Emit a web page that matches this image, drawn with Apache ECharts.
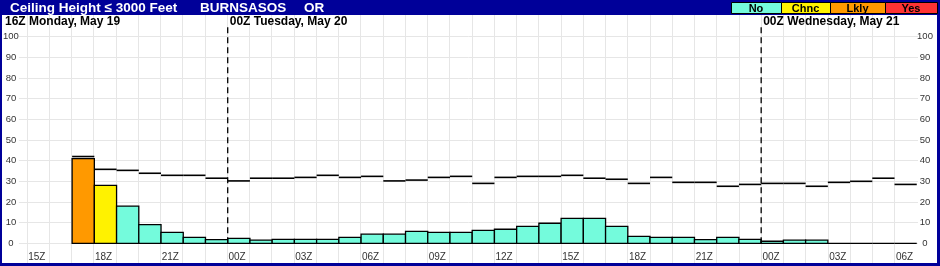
<!DOCTYPE html>
<html><head><meta charset="utf-8">
<script src="https://cdn.jsdelivr.net/npm/echarts@6/dist/echarts.min.js"></script>
<style>html,body{margin:0;padding:0;background:#fff}#c{width:940px;height:266px}</style>
</head><body><div id="c"></div>
<script>
// ---- data ----
const titleParts = ['Ceiling Height \u2264 3000 Feet', 'BURNSASOS', 'OR'];
const hourLabels = ['17Z','18Z','19Z','20Z','21Z','22Z','23Z',
  '00Z','01Z','02Z','03Z','04Z','05Z','06Z','07Z','08Z','09Z','10Z','11Z','12Z',
  '13Z','14Z','15Z','16Z','17Z','18Z','19Z','20Z','21Z','22Z','23Z',
  '00Z','01Z','02Z','03Z','04Z','05Z','06Z'];
const firstHourOffset = -7; // 17Z Mon relative to 00Z Tue May 20
const probValues = [41, 28, 18, 9, 5.3, 2.9, 1.8,
  2.4, 1.5, 1.9, 1.9, 1.9, 2.9, 4.4, 4.4, 5.8, 5.3, 5.3, 6.3, 6.8,
  8.2, 9.7, 12.1, 12.1, 8.2, 3.4, 2.9, 2.9, 1.8, 2.9, 1.9,
  1.0, 1.5, 1.5, 0, 0, 0, 0];
const lineValues = [42, 35.8, 35.3, 33.9, 32.9, 32.9, 31.5,
  30.2, 31.5, 31.5, 31.9, 32.9, 31.9, 32.4, 30.2, 30.6, 31.9, 32.4, 29.0, 31.9,
  32.4, 32.4, 32.9, 31.5, 31.0, 29.0, 31.9, 29.5, 29.5, 27.6, 28.5,
  29.0, 29.0, 27.6, 29.5, 30.0, 31.5, 28.5];
const xTickLabels = ['15Z','18Z','21Z','00Z','03Z','06Z','09Z','12Z','15Z','18Z','21Z','00Z','03Z','06Z'];
const xTickFirstHour = -9;
const yTicks = [0,10,20,30,40,50,60,70,80,90,100];
const dayLabels = ['16Z Monday, May 19', '00Z Tuesday, May 20', '00Z Wednesday, May 21'];
const dayBoundaryHours = [0, 24];
const legendNames = ['No', 'Chnc', 'Lkly', 'Yes'];
const legendColors = ['#74FBDC', '#FFF200', '#FF9900', '#FF3333'];
const legendThresholds = [0, 20, 40, 70];

// ---- chart ----
const FF = 'Liberation Sans, Arial, sans-serif';
const chart = echarts.init(document.getElementById('c'));
function colorFor(v) {
  let c = legendColors[0];
  legendThresholds.forEach((t, i) => { if (v >= t) c = legendColors[i]; });
  return c;
}
const barData = probValues.map((v, i) => [firstHourOffset + i, v]);
const lineData = lineValues.map((v, i) => [firstHourOffset + i, v]);

const legendX = [731, 781, 830, 885, 937];
const graphics = [
  {type:'rect', shape:{x:0,y:0,width:940,height:15}, style:{fill:'#000099'}, z:100},
  {type:'rect', shape:{x:0,y:0,width:2,height:266}, style:{fill:'#000099'}, z:100},
  {type:'rect', shape:{x:937,y:0,width:3,height:266}, style:{fill:'#000099'}, z:100},
  {type:'rect', shape:{x:0,y:263,width:940,height:3}, style:{fill:'#000099'}, z:100},
  {type:'text', x:10, y:8, style:{text:titleParts[0], fill:'#fff', font:'bold 13.5px '+FF, verticalAlign:'middle'}, z:101},
  {type:'text', x:200, y:8, style:{text:titleParts[1], fill:'#fff', font:'bold 13.5px '+FF, verticalAlign:'middle'}, z:101},
  {type:'text', x:304, y:8, style:{text:titleParts[2], fill:'#fff', font:'bold 13.5px '+FF, verticalAlign:'middle'}, z:101},
  {type:'text', x:5, y:21.5, style:{text:dayLabels[0], fill:'#000', font:'bold 12px '+FF, verticalAlign:'middle'}, z:101}
];
legendNames.forEach((n, i) => {
  const x0 = legendX[i], x1 = legendX[i+1];
  graphics.push({type:'rect', shape:{x:x0+0.5, y:2.5, width:x1-x0, height:11}, style:{fill:legendColors[i], stroke:'#000', lineWidth:1}, z:102});
  graphics.push({type:'text', x:(x0+x1)/2, y:8.5, style:{text:n, fill:'#000', font:'bold 11px '+FF, align:'center', verticalAlign:'middle'}, z:103});
});

const option = {
  animation: false,
  backgroundColor: '#fff',
  grid: [
    {left: 4.5, right: 23.25, top: 15, bottom: 3},
    {left: 18, right: 22, top: 36.7, bottom: 22.7}
  ],
  xAxis: [
    {gridIndex:0, type:'value', min:-10, max:31, interval:1,
      axisLine:{show:false}, axisTick:{show:false},
      splitLine:{show:true, showMinLine:false, showMaxLine:false, lineStyle:{color:'#e6e6e6', width:1}},
      axisLabel:{inside:true, margin:6, verticalAlign:'middle', align:'left', padding:[0,0,0,1.5],
        fontSize:10, fontFamily:FF, color:'#333',
        formatter: function (h) {
          const k = (h - xTickFirstHour) / 3;
          return (Number.isInteger(k) && k >= 0 && k < xTickLabels.length) ? xTickLabels[k] : '';
        }}},
    {gridIndex:1, type:'value', min:-9.393, max:31.056, show:false}
  ],
  yAxis: [
    {gridIndex:0, type:'value', min:0, max:1, show:false},
    {gridIndex:1, type:'value', min:yTicks[0], max:yTicks[yTicks.length-1], interval:10,
      axisLine:{show:false}, axisTick:{show:false},
      splitLine:{show:true, lineStyle:{color:'#e6e6e6', width:1}},
      axisLabel:{margin:8, align:'center', fontSize:9.5, fontFamily:FF, color:'#333'}},
    {gridIndex:1, type:'value', position:'right', min:yTicks[0], max:yTicks[yTicks.length-1], interval:10,
      axisLine:{show:false}, axisTick:{show:false}, splitLine:{show:false},
      axisLabel:{margin:7, align:'center', fontSize:9.5, fontFamily:FF, color:'#333'}}
  ],
  graphic: graphics,
  series: [
    {type:'custom', name:'prob', xAxisIndex:1, yAxisIndex:1, clip:false, z:3,
      encode:{x:0, y:1}, data: barData,
      renderItem: function (params, api) {
        const h = api.value(0), v = api.value(1);
        const p0 = api.coord([h, 0]), p1 = api.coord([h + 1, v]);
        return {type:'rect', shape:{x:p0[0], y:p1[1], width:p1[0]-p0[0], height:p0[1]-p1[1]},
          style:{fill: colorFor(v), stroke:'#000', lineWidth:1.3}};
      }},
    {type:'custom', name:'line', xAxisIndex:1, yAxisIndex:1, clip:false, z:4,
      encode:{x:0, y:1}, data: lineData,
      renderItem: function (params, api) {
        const h = api.value(0), v = api.value(1);
        const p0 = api.coord([h, v]), p1 = api.coord([h + 1, v]);
        return {type:'line', shape:{x1:p0[0], y1:p0[1], x2:p1[0], y2:p1[1]},
          style:{stroke:'#000', lineWidth:1.6}};
      }},
    {type:'custom', name:'days', xAxisIndex:1, yAxisIndex:1, clip:false, z:5,
      encode:{x:0}, data: dayBoundaryHours.map((h, i) => [h, i + 1]),
      renderItem: function (params, api) {
        const h = api.value(0), idx = api.value(1);
        const pb = api.coord([h, 0]), pt = api.coord([h, 100]);
        return {type:'group', children:[
          {type:'line', shape:{x1:pb[0], y1:pb[1], x2:pt[0], y2:pt[1]-12},
            style:{stroke:'#000', lineWidth:1.3, lineDash:[6,4]}},
          {type:'text', x:pt[0]+2, y:pt[1]-15.2,
            style:{text:dayLabels[idx], fill:'#000', font:'bold 12px '+FF, verticalAlign:'middle', align:'left'}}
        ]};
      }}
  ]
};
chart.setOption(option);
</script></body></html>
